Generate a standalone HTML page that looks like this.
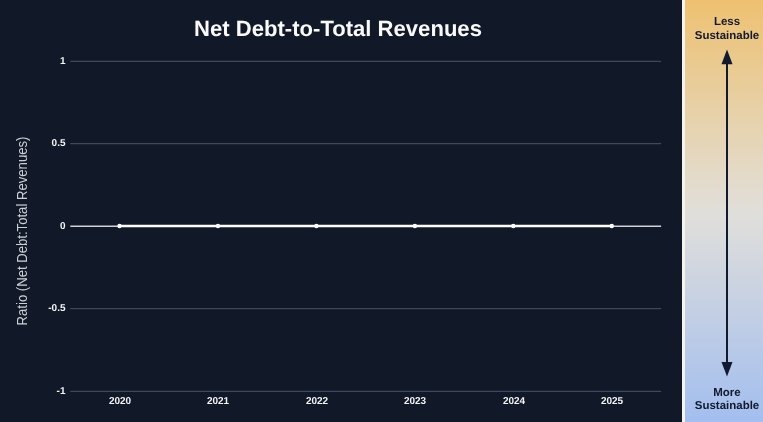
<!DOCTYPE html>
<html>
<head>
<meta charset="utf-8">
<title>Net Debt-to-Total Revenues</title>
<style>
  html, body { margin:0; padding:0; overflow:hidden; }
  body { width:763px; height:422px; overflow:hidden; background:#111928; position:relative;
         font-family:"Liberation Sans", Arial, sans-serif; }
  .abs { position:absolute; }
  #title { left:0.4px; width:676px; top:16.4px; transform:skewX(0.05deg); text-align:center; color:#fafafa; font-weight:bold;
           font-size:22.08px; line-height:26px; white-space:nowrap; }
  .ylab { transform:skewX(0.05deg); width:65.5px; left:0; text-align:right; color:#f3f4f6; font-weight:bold; font-size:10px; line-height:12px; }
  .xlab { transform:skewX(0.05deg); width:60px; text-align:center; color:#f3f4f6; font-weight:bold; font-size:10px; line-height:12px; top:394.8px; }
  #ytitle { left:21.5px; top:231px; width:0; height:0; }
  #ytitle span { position:absolute; left:-110px; width:220px; top:-8px; height:16px; line-height:16px; text-align:center;
                 transform:rotate(-90deg) scaleX(0.937); color:#cbcfd6; font-size:14px; white-space:nowrap; display:block; }
  #sep { left:682px; top:0; width:3px; height:422px; background:#f5f3ee; }
  #panel { left:685px; top:0; width:78px; height:422px;
           background:linear-gradient(to bottom, #eec170 0%, #e1dfda 50%, #a3beef 100%); }
  .ptxt { transform:skewX(0.05deg); left:691px; width:72px; text-align:center; color:#111a2e; font-weight:bold; font-size:11.5px; line-height:13px; white-space:nowrap; }
</style>
</head>
<body>
  <div id="title" class="abs">Net Debt-to-Total Revenues</div>

  <div class="abs ylab" style="top:55px">1</div>
  <div class="abs ylab" style="top:137px">0.5</div>
  <div class="abs ylab" style="top:220px">0</div>
  <div class="abs ylab" style="top:302px">-0.5</div>
  <div class="abs ylab" style="top:385px">-1</div>

  <div class="abs xlab" style="left:89.6px">2020</div>
  <div class="abs xlab" style="left:188.1px">2021</div>
  <div class="abs xlab" style="left:286.6px">2022</div>
  <div class="abs xlab" style="left:385.1px">2023</div>
  <div class="abs xlab" style="left:483.6px">2024</div>
  <div class="abs xlab" style="left:582.1px">2025</div>

  <div id="ytitle" class="abs"><span>Ratio (Net Debt:Total Revenues)</span></div>

  <svg class="abs" style="left:0;top:0" width="682" height="422" viewBox="0 0 682 422">
    <g stroke="#3f4959" stroke-width="1.15">
      <line x1="70.3" y1="61.3" x2="661.1" y2="61.3"/>
      <line x1="70.3" y1="143.65" x2="661.1" y2="143.65"/>
      <line x1="70.3" y1="308.65" x2="661.1" y2="308.65"/>
      <line x1="70.3" y1="391.3" x2="661.1" y2="391.3"/>
    </g>
    <line x1="70.3" y1="226.2" x2="661.1" y2="226.2" stroke="#cfd2d8" stroke-width="1.45"/>
    <line x1="119.5" y1="226" x2="611.8" y2="226" stroke="#ffffff" stroke-width="2.5"/>
    <g fill="#ffffff">
      <circle cx="119.5" cy="226" r="2.2"/>
      <circle cx="217.95" cy="226" r="2.2"/>
      <circle cx="316.4" cy="226" r="2.2"/>
      <circle cx="414.85" cy="226" r="2.2"/>
      <circle cx="513.3" cy="226" r="2.2"/>
      <circle cx="611.8" cy="226" r="2.2"/>
    </g>
  </svg>

  <div id="sep" class="abs"></div>
  <div id="panel" class="abs"></div>
  <div class="abs ptxt" style="top:15.2px">Less</div>
  <div class="abs ptxt" style="top:28.5px">Sustainable</div>
  <div class="abs ptxt" style="top:385.6px">More</div>
  <div class="abs ptxt" style="top:398.8px">Sustainable</div>
  <svg class="abs" style="left:685px;top:0" width="78" height="422" viewBox="685 0 78 422">
    <line x1="727" y1="60" x2="727" y2="366" stroke="#111a2e" stroke-width="2"/>
    <polygon points="727,49.4 732.5,64.3 721.5,64.3" fill="#111a2e"/>
    <polygon points="727,376.6 732.5,362 721.5,362" fill="#111a2e"/>
  </svg>
</body>
</html>
